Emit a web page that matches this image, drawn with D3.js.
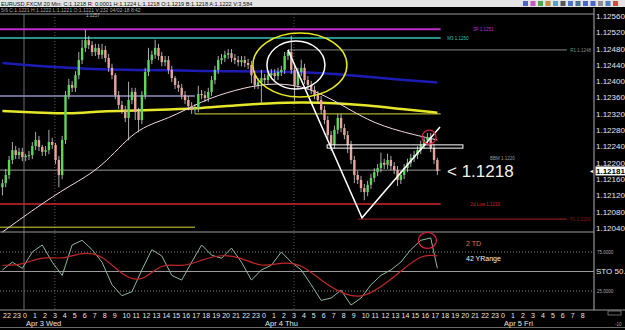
<!DOCTYPE html>
<html>
<head>
<meta charset="utf-8">
<script src="https://cdn.jsdelivr.net/npm/d3@7"></script>
<style>
  html, body { margin: 0; padding: 0; background: #000; }
  svg { display: block; font-family: "Liberation Sans", Arial, sans-serif; }
</style>
</head>
<body>
<div id="chart"></div>
<script>
// EURUSD 20 min bars, Apr 2 21:40 .. Apr 4 17:20
var firstOpen = 1.12140;
var closes = [
  1.12150, 1.12170, 1.12207, 1.12231, 1.12219, 1.12227, 1.12214, 1.12217, 1.12219, 1.12241,
  1.12256, 1.12239, 1.12227, 1.12231, 1.12251, 1.12244, 1.12207, 1.12170, 1.12256, 1.12366,
  1.12391, 1.12384, 1.12415, 1.12452, 1.12482, 1.12501, 1.12489, 1.12472, 1.12482, 1.12465,
  1.12477, 1.12457, 1.12433, 1.12415, 1.12366, 1.12342, 1.12330, 1.12310, 1.12354, 1.12374,
  1.12325, 1.12305, 1.12366, 1.12423, 1.12452, 1.12465, 1.12482, 1.12462, 1.12447, 1.12452,
  1.12428, 1.12408, 1.12391, 1.12384, 1.12366, 1.12354, 1.12339, 1.12330, 1.12334, 1.12369,
  1.12366, 1.12359, 1.12374, 1.12403, 1.12428, 1.12452, 1.12457, 1.12465, 1.12469, 1.12457,
  1.12452, 1.12447, 1.12452, 1.12445, 1.12440, 1.12415, 1.12391, 1.12398, 1.12408, 1.12403,
  1.12415, 1.12420, 1.12413, 1.12423, 1.12428, 1.12462, 1.12472, 1.12428, 1.12391, 1.12423,
  1.12433, 1.12403, 1.12391, 1.12379, 1.12366, 1.12354, 1.12330, 1.12305, 1.12268, 1.12244,
  1.12281, 1.12310, 1.12285, 1.12268, 1.12244, 1.12207, 1.12170, 1.12158, 1.12138, 1.12128,
  1.12146, 1.12163, 1.12177, 1.12187, 1.12200, 1.12195, 1.12207, 1.12192, 1.12182, 1.12158,
  1.12170, 1.12187, 1.12200, 1.12212, 1.12219, 1.12231, 1.12244, 1.12256, 1.12263, 1.12236,
  1.12207, 1.12180
];
// wick lengths in pips above / below the body
var wickUp = [
  1, 1.5, 1, 2, 1, 1, 1, 0.5, 1, 1,
  2, 1, 0.5, 1, 3, 1, 0.5, 1, 1, 1,
  1.5, 1, 1, 2, 2, 2.5, 1, 1, 1, 1,
  1.5, 1, 1, 1, 0.5, 1, 1, 1, 4.5, 1,
  1, 1, 1, 1, 3, 1, 2, 1, 1, 1,
  1, 1, 0.5, 1, 1, 1, 1, 1, 1, 2,
  1, 1, 1, 1, 1, 1, 1, 1, 1, 1,
  1, 1, 1, 1, 1, 1, 1, 1, 2, 1,
  1, 1, 1, 1, 1, 1, 0.5, 4, 1, 1,
  2, 1, 1, 1, 1, 1, 1, 1, 1, 1,
  1, 1, 1, 1, 1, 1, 1, 1, 1, 1,
  1, 1, 1, 1, 2.5, 1, 1.5, 1, 1, 1,
  1, 1, 1, 1, 1, 1, 1, 0.5, 1, 1,
  1, 0.5
];
var wickDn = [
  2, 1, 1, 1, 1, 1, 1, 1, 1, 1,
  1, 1, 1, 1, 1, 1, 1, 3, 1, 1,
  1, 1, 1, 1, 1, 1, 1, 1, 1, 1,
  1, 1, 1, 1, 1, 1, 1, 1, 5.5, 1,
  2, 3, 1, 1, 1, 1, 1, 1, 1, 1,
  1, 1, 1, 1, 1, 1, 1, 1, 1, 1,
  1, 1, 1, 1, 1, 1, 1, 1, 1, 1,
  1, 1, 1, 1, 1, 2, 1, 1, 5, 1,
  1, 1, 1, 1, 1, 1, 1, 1, 4, 1,
  1, 1, 1, 1, 1, 1, 1, 1, 1, 1.5,
  1, 1, 1, 1, 2, 1, 2, 1, 1, 2,
  1, 1, 1, 1, 1, 1, 1, 1, 1, 1.5,
  1, 1, 1, 1, 1, 1, 1, 1, 1, 1,
  1, 1
];

// moving averages sampled at these bars
var maIdx   = [0, 10, 20, 30, 40, 50, 60, 70, 80, 90, 100, 110, 120, 131];
var maBlue  = [1.12445, 1.12438, 1.12433, 1.12429, 1.12428, 1.12427, 1.12425, 1.12425, 1.12424, 1.12423, 1.12418, 1.12411, 1.12404, 1.12397];
var maYellow= [1.12327, 1.12323, 1.12320, 1.12327, 1.12328, 1.12331, 1.12334, 1.12341, 1.12346, 1.12349, 1.12347, 1.12341, 1.12332, 1.12323];
var maPink  = [1.12030, 1.12089, 1.12143, 1.12187, 1.12285, 1.12307, 1.12352, 1.12379, 1.12396, 1.12391, 1.12354, 1.12303, 1.12276, 1.12256];

// stochastic
var stoKIdx = [0, 3, 6, 9, 12, 15, 18, 21, 24, 27, 30, 33, 36, 39, 42, 45, 48, 51, 54, 57, 60, 63, 66, 69, 72, 75, 78, 81, 84, 87, 90, 93, 96, 99, 102, 105, 108, 111, 114, 117, 120, 123, 126, 129, 131];
var stoK    = [52, 62, 54, 75, 84, 62, 45, 84, 90, 78, 62, 33, 19, 24, 52, 78, 70, 45, 39, 62, 84, 71, 67, 80, 62, 39, 52, 58, 75, 62, 52, 33, 13, 16, 26, 7, 16, 33, 45, 52, 62, 78, 90, 93, 54];
var stoDIdx = [0, 6, 12, 18, 24, 30, 36, 42, 48, 54, 60, 66, 72, 78, 84, 90, 96, 102, 108, 114, 120, 126, 131];
var stoD    = [58, 58, 70, 65, 75, 72, 45, 35, 62, 55, 65, 72, 68, 55, 62, 60, 38, 22, 15, 30, 50, 72, 70];

// price levels
var levelPrice = [1.12528, 1.12506, 1.12477, 1.12364, 1.12320, 1.12182, 1.12099, 1.12062, 1.12042];
var levelColor = ["#c02cc8", "#2ec4b0", "#8a8a8a", "#8e8ec4", "#d8d838", "#9a9a9a", "#d02828", "#8a1818", "#d8d838"];
var levelWidth = [2, 1.5, 1, 1.5, 1, 1, 1.5, 1.2, 1];
var levelFrom  = [-1, -1, 86, -1, 58, -1, -1, 107, -1];
var levelTo    = [132, 132, 170, 58, 132, 132, 132, 170, 58];
var levelLabel = ["\u2190 3P 1.1251", "M3 1.1250", "R1 1.1248", "", "", "", "2d Low 1.1210", "PL 1.1206", ""];
var levelLabelBar = [140, 134, 171, 0, 0, 0, 141, 171, 0];

var yTicks = d3.range(1.12040, 1.125601, 0.0004);
var hourTicks = d3.range(-2, 57);
var dayTicks = [0, 24, 48];
var dayNames = ["Apr 3 Wed", "Apr 4 Thu", "Apr 5 Fri"];

var W = 625, H = 330;
var svg = d3.select("#chart").append("svg").attr("width", W).attr("height", H);
svg.append("rect").attr("width", W).attr("height", H).attr("fill", "#000");

// hours from Apr 3 00:00 -> px
var xt = d3.scaleLinear().domain([0, 48]).range([24, 502.1]);
var xb = function (i) { return xt(-2.333 + i / 3 + 1 / 6); };
var y = d3.scaleLinear().domain([1.12040, 1.12560]).range([228, 16.1]);
var ys = d3.scaleLinear().domain([0, 100]).range([310.5, 232.5]);
var axisX = 594;

// header
svg.append("rect").attr("x", 0).attr("y", 0).attr("width", W).attr("height", 7).attr("fill", "#e4e4e4");
svg.append("text").attr("x", 1).attr("y", 5.5).attr("font-size", 5.6).attr("fill", "#111")
  .text("EURUSD,FXCM  20 Min:  C:1.1218  R: 0.0001  H:1.1224  L:1.1218  O:1.1219  B:1.1218  A:1.1222  V:3,584");
svg.append("text").attr("x", 1).attr("y", 12).attr("font-size", 5).attr("fill", "#aaa")
  .text("5/6  C:1.1221  H:1.1222  L:1.1221  O:1.1221  V:232  04/02-18  8:42");
var iconCols = ["#3050c0", "#c040c0", "#30a030", "#c08020", "#30a0c0", "#404040", "#3060c0", "#306080", "#3050c0", "#3050c0", "#808080", "#3070c0", "#d03020"];
svg.selectAll(".icon").data(iconCols).enter().append("rect")
  .attr("x", function (d, i) { return 523 + i * 7.5; }).attr("y", 1).attr("width", 5).attr("height", 5)
  .attr("fill", function (d) { return d; }).attr("opacity", 0.85);

// frame lines
svg.append("line").attr("x1", 0).attr("x2", axisX).attr("y1", 14).attr("y2", 14).attr("stroke", "#9a9a9a");
svg.append("line").attr("x1", 0).attr("x2", axisX).attr("y1", 232).attr("y2", 232).attr("stroke", "#9a9a9a");
svg.append("line").attr("x1", 0).attr("x2", W).attr("y1", 310).attr("y2", 310).attr("stroke", "#9a9a9a");
svg.append("line").attr("x1", axisX).attr("x2", axisX).attr("y1", 8).attr("y2", 310).attr("stroke", "#b0b0b0");
svg.append("line").attr("x1", 0).attr("x2", W).attr("y1", 327.5).attr("y2", 327.5).attr("stroke", "#6a6a6a");

// separators
svg.append("line").attr("x1", xt(0)).attr("x2", xt(0)).attr("y1", 14).attr("y2", 310).attr("stroke", "#8a8a8a").attr("stroke-width", 0.8);
[3.1, 27.1].forEach(function (t) {
  svg.append("line").attr("x1", xt(t)).attr("x2", xt(t)).attr("y1", 14).attr("y2", 310)
    .attr("stroke", "#8a6a6a").attr("stroke-dasharray", "1,2").attr("stroke-width", 0.8);
});

// levels
levelPrice.forEach(function (p, k) {
  var x1 = levelFrom[k] < 0 ? 0 : xb(levelFrom[k]);
  svg.append("line").attr("x1", x1).attr("x2", xb(levelTo[k])).attr("y1", y(p)).attr("y2", y(p))
    .attr("stroke", levelColor[k]).attr("stroke-width", levelWidth[k]);
  if (levelLabel[k]) {
    svg.append("text").attr("x", xb(levelLabelBar[k])).attr("y", y(p) + 1.8).attr("font-size", 4.5)
      .attr("fill", levelColor[k]).text(levelLabel[k]);
  }
});

// moving averages
var maLine = d3.line().x(function (d) { return xb(d[0]); }).y(function (d) { return y(d[1]); }).curve(d3.curveBasis);
svg.append("path").attr("d", maLine(d3.zip(maIdx, maBlue))).attr("fill", "none").attr("stroke", "#1c1cb4").attr("stroke-width", 2.5);
svg.append("path").attr("d", maLine(d3.zip(maIdx, maYellow))).attr("fill", "none").attr("stroke", "#e6e62a").attr("stroke-width", 2.5);
svg.append("path").attr("d", maLine(d3.zip(maIdx, maPink))).attr("fill", "none").attr("stroke", "#f4d8e8").attr("stroke-width", 1);

// candles
var pip = 0.0001;
var bars = closes.map(function (c, i) {
  var o = i === 0 ? firstOpen : closes[i - 1];
  return { i: i, o: o, c: c, h: Math.max(o, c) + wickUp[i] * pip, l: Math.min(o, c) - wickDn[i] * pip };
});
var g = svg.append("g");
g.selectAll(".wick").data(bars).enter().append("line")
  .attr("x1", function (d) { return xb(d.i); }).attr("x2", function (d) { return xb(d.i); })
  .attr("y1", function (d) { return y(d.h); }).attr("y2", function (d) { return y(d.l); })
  .attr("stroke", "#d8d8d8").attr("stroke-width", 0.8);
g.selectAll(".body").data(bars).enter().append("rect")
  .attr("x", function (d) { return xb(d.i) - 1.2; }).attr("width", 2.4)
  .attr("y", function (d) { return y(Math.max(d.o, d.c)); })
  .attr("height", function (d) { return Math.max(1, Math.abs(y(d.o) - y(d.c))); })
  .attr("fill", function (d) { return d.c >= d.o ? "#5ed65e" : "#e8a49c"; });

// drawings
var peak = [86, 1.12477], low = [108.3, 1.12065], end = [131.8, 1.12288];
svg.append("path").attr("d", d3.line()([peak, low, end].map(function (d) { return [xb(d[0]), y(d[1])]; })))
  .attr("fill", "none").attr("stroke", "#fff").attr("stroke-width", 1.5);
svg.append("rect").attr("x", xb(97.8)).attr("y", y(1.12244)).attr("width", xb(138.7) - xb(97.8))
  .attr("height", y(1.12236) - y(1.12244)).attr("fill", "none").attr("stroke", "#fff").attr("stroke-width", 1);
svg.append("ellipse").attr("cx", xb(89.6)).attr("cy", y(1.12440)).attr("rx", 47).attr("ry", 32)
  .attr("fill", "none").attr("stroke", "#e8e820").attr("stroke-width", 1.5);
svg.append("ellipse").attr("cx", xb(88.4)).attr("cy", y(1.12440)).attr("rx", 29).attr("ry", 24)
  .attr("fill", "none").attr("stroke", "#fff").attr("stroke-width", 1.5);
svg.append("circle").attr("cx", xb(128.5)).attr("cy", y(1.12263)).attr("r", 7)
  .attr("fill", "none").attr("stroke", "#d82040").attr("stroke-width", 1.3);

svg.append("text").attr("x", 447).attr("y", 177).attr("font-size", 17).attr("fill", "#f2f2e6").text("< 1.1218");
svg.append("text").attr("x", 490).attr("y", 160).attr("font-size", 4.5).attr("fill", "#999").text("BBM 1.1220");
svg.append("text").attr("x", 86).attr("y", 17).attr("font-size", 4.5).attr("fill", "#bbb").text("1.1257");

// price axis
svg.selectAll(".ytick").data(yTicks).enter().append("text")
  .attr("x", 596).attr("y", function (d) { return y(d); }).attr("dy", "0.35em")
  .attr("font-size", 8).attr("fill", "#e6e6e6").text(function (d) { return d.toFixed(5); });
var last = closes[closes.length - 1];
svg.append("rect").attr("x", 595.5).attr("y", y(last) - 4.5).attr("width", 29.5).attr("height", 9).attr("fill", "#fff");
svg.append("text").attr("x", 596).attr("y", y(last)).attr("dy", "0.35em").attr("font-size", 8)
  .attr("font-weight", "bold").attr("fill", "#000").text("1.12181");
svg.append("text").attr("x", 589).attr("y", y(last)).attr("dy", "0.35em").attr("font-size", 5).attr("fill", "#fff").text("\u25C4");

// stochastic panel
[75, 25].forEach(function (v) {
  svg.append("line").attr("x1", 0).attr("x2", axisX).attr("y1", ys(v)).attr("y2", ys(v))
    .attr("stroke", "#8a8a8a").attr("stroke-dasharray", "1,2");
  svg.append("text").attr("x", 597).attr("y", ys(v)).attr("dy", "0.35em").attr("font-size", 4.5)
    .attr("fill", "#aaa").text(v.toFixed(4));
});
svg.append("line").attr("x1", 0).attr("x2", axisX).attr("y1", ys(50)).attr("y2", ys(50)).attr("stroke", "#9a9a9a");
svg.append("text").attr("x", 596).attr("y", ys(50)).attr("dy", "0.35em").attr("font-size", 8).attr("fill", "#e6e6e6").text("STO 50.");

var kLine = d3.line().x(function (d) { return xb(d[0]); }).y(function (d) { return ys(d[1]); });
var dLine = d3.line().x(function (d) { return xb(d[0]); }).y(function (d) { return ys(d[1]); }).curve(d3.curveBasis);
svg.append("path").attr("d", kLine(d3.zip(stoKIdx, stoK))).attr("fill", "none").attr("stroke", "#8fb8a0").attr("stroke-width", 1);
svg.append("path").attr("d", dLine(d3.zip(stoDIdx, stoD))).attr("fill", "none").attr("stroke", "#c02828").attr("stroke-width", 1.2);
svg.append("ellipse").attr("cx", xb(128)).attr("cy", ys(90)).attr("rx", 9).attr("ry", 8)
  .attr("fill", "none").attr("stroke", "#d82040").attr("stroke-width", 1.3);
svg.append("text").attr("x", 466).attr("y", 246).attr("font-size", 7).attr("fill", "#e07050").text("2 TD");
svg.append("text").attr("x", 466).attr("y", 261).attr("font-size", 7).attr("fill", "#f0f0f0").text("42 YRange");

// time axis
svg.selectAll(".htick").data(hourTicks).enter().append("text")
  .attr("x", function (d) { return xt(d) - 1; }).attr("y", 318).attr("font-size", 7).attr("fill", "#e6e6e6")
  .text(function (d) { return ((d % 24) + 24) % 24; });
svg.selectAll(".dtick").data(dayTicks).enter().append("text")
  .attr("x", function (d) { return xt(d) + 2; }).attr("y", 325.5).attr("font-size", 7.5).attr("fill", "#e6e6e6")
  .text(function (d, i) { return dayNames[i]; });
svg.append("rect").attr("x", 608).attr("y", 311).attr("width", 13).attr("height", 4).attr("fill", "none").attr("stroke", "#aaa").attr("stroke-width", 0.6);
svg.append("text").attr("x", 615).attr("y", 326).attr("font-size", 4.5).attr("fill", "#aaa").text("-10");
</script>
</body>
</html>
